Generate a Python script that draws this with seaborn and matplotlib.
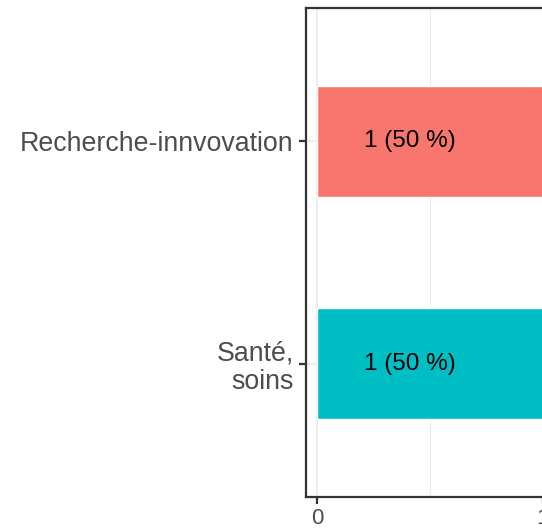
import numpy as np
import pandas as pd
import seaborn as sns
import matplotlib.pyplot as plt
from matplotlib.ticker import MultipleLocator

categories = ['Recherche-innvovation', 'Santé,\nsoins']
counts = [1, 1]
colors = ['#F8766D', '#00BFC4']

total = sum(counts)
df = pd.DataFrame({'cat': categories, 'n': counts})
df['label'] = [f'{n} ({round(100 * n / total)} %)' for n in counts]

sns.set_style('white')
plt.rcParams['font.family'] = ['Liberation Sans', 'DejaVu Sans']

fig = plt.figure(figsize=(5.42, 5.30), dpi=100)
ax = fig.add_axes([306 / 542, 33 / 530, 248 / 542, 489 / 530])

sns.barplot(data=df, x='n', y='cat', hue='cat', palette=colors, width=0.5,
            orient='h', legend=False, ax=ax, saturation=1, zorder=2)

for i, row in df.iterrows():
    ax.text(0.41, i, row['label'], ha='center', va='center', fontsize=17.5,
            color='black', zorder=3)

ax.set_xlim(-0.05, 1.05)
ax.set_ylim(1.6, -0.6)
ax.xaxis.set_major_locator(MultipleLocator(1))
ax.xaxis.set_minor_locator(MultipleLocator(0.5))
ax.grid(True, which='major', color='#EBEBEB', lw=1.2, zorder=0)
ax.grid(True, which='minor', axis='x', color='#EBEBEB', lw=0.8, zorder=0)
ax.set_axisbelow(True)
ax.set_xlabel('')
ax.set_ylabel('')

for s in ax.spines.values():
    s.set_color('#333333')
    s.set_linewidth(1.6)
    s.set_visible(True)

ax.tick_params(axis='both', which='major', length=5, width=1.6, color='#333333',
               labelcolor='#4D4D4D', bottom=True, left=True)
ax.tick_params(axis='y', labelsize=19.3, pad=4)
ax.tick_params(axis='x', labelsize=16, pad=3)
ax.tick_params(axis='x', which='minor', length=0)
for t in ax.get_yticklabels():
    t.set_linespacing(1.1)

fig.savefig('out.png', dpi=100)
